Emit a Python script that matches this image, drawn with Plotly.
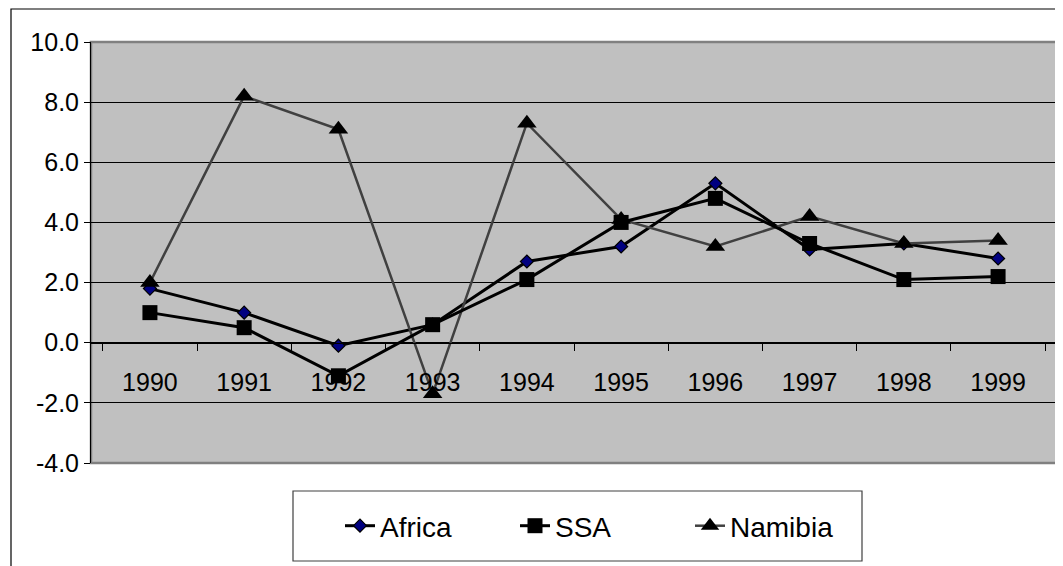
import plotly.graph_objects as go

years = ["1990", "1991", "1992", "1993", "1994", "1995", "1996", "1997", "1998", "1999"]
africa = [1.8, 1.0, -0.1, 0.6, 2.7, 3.2, 5.3, 3.1, 3.3, 2.8]
ssa = [1.0, 0.5, -1.1, 0.6, 2.1, 4.0, 4.8, 3.3, 2.1, 2.2]
namibia = [2.0, 8.2, 7.1, -1.7, 7.3, 4.1, 3.2, 4.2, 3.3, 3.4]
y_tick_values = [-4, -2, 0, 2, 4, 6, 8, 10]
y_tick_labels = ["-4.0", "-2.0", "0.0", "2.0", "4.0", "6.0", "8.0", "10.0"]

y_min, y_max = -4.0, 10.0

FONT = "Liberation Sans, Arial, sans-serif"

fig = go.Figure()
fig.add_trace(go.Scatter(
    x=years, y=africa, name="Africa", mode="lines+markers", legendrank=1,
    line=dict(color="black", width=3),
    marker=dict(symbol="diamond", size=10, color="#000080", line=dict(color="black", width=1.2)),
))
fig.add_trace(go.Scatter(
    x=years, y=namibia, name="Namibia", mode="lines+markers", legendrank=3,
    line=dict(color="#404040", width=2.5),
    marker=dict(symbol="triangle-up", size=17, color="black", line=dict(color="black", width=0)),
))
fig.add_trace(go.Scatter(
    x=years, y=ssa, name="SSA", mode="lines+markers", legendrank=2,
    line=dict(color="black", width=3),
    marker=dict(symbol="square", size=15, color="black", line=dict(color="black", width=0)),
))

# page body has an 8px margin, so the figure starts at (8, 8) in the window
OFF = 8
W, H = 1063 - OFF, 566 - OFF
L, T = 91 - OFF, 42 - OFF
R = W - (1057 - OFF)
B = H - (463 - OFF)
pw, ph = W - L - R, H - T - B


def px_x(x):
    return (x - OFF - L) / pw


def px_y(y):
    return (H - B - (y - OFF)) / ph


fig.update_layout(
    width=W, height=H,
    margin=dict(l=L, r=R, t=T, b=B),
    paper_bgcolor="white",
    plot_bgcolor="#C0C0C0",
    font=dict(family=FONT, color="black", size=25),
    showlegend=True,
    legend=dict(
        orientation="h", x=px_x(340), xanchor="left", y=px_y(526), yanchor="middle",
        bgcolor="rgba(0,0,0,0)", borderwidth=0,
        font=dict(size=28), entrywidth=130, entrywidthmode="pixels",
    ),
    xaxis=dict(
        type="category", categoryorder="array", categoryarray=years,
        anchor="free", position=(0 - y_min) / (y_max - y_min),
        showline=True, linecolor="black", linewidth=1,
        ticks="outside", tickson="boundaries", ticklen=7, tickcolor="black", tickwidth=1,
        showgrid=False, zeroline=False, ticklabelstandoff=17,
    ),
    yaxis=dict(
        range=[y_min, y_max], tickvals=y_tick_values, ticktext=y_tick_labels,
        showline=True, linecolor="black", linewidth=1,
        ticks="outside", ticklen=6, tickcolor="black",
        showgrid=True, gridcolor="black", gridwidth=1, zeroline=False,
    ),
    shapes=[
        dict(type="rect", xref="paper", yref="paper", x0=0, x1=1, y0=0, y1=1,
             line=dict(color="#808080", width=2.5), layer="below"),
        dict(type="rect", xref="paper", yref="paper",
             x0=px_x(11), x1=px_x(1075), y0=px_y(590), y1=px_y(9),
             line=dict(color="black", width=1.2)),
        dict(type="rect", xref="paper", yref="paper",
             x0=px_x(293), x1=px_x(862), y0=px_y(561), y1=px_y(491),
             line=dict(color="#404040", width=1.2), fillcolor="white"),
    ],
)

fig.write_html("out.html")
